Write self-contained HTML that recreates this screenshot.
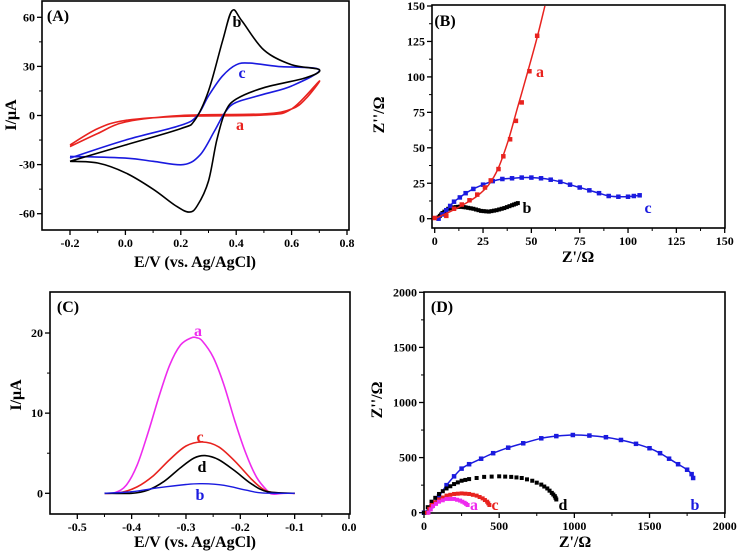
<!DOCTYPE html>
<html><head><meta charset="utf-8"><style>
html,body{margin:0;padding:0;background:#fff}
svg{display:block;font-family:"Liberation Serif",serif;font-weight:bold}
</style></head><body>
<svg id="fig" width="738" height="551" viewBox="0 0 738 551" xmlns="http://www.w3.org/2000/svg"></svg>
<script>
// ---------- Panel A data (CV) ----------
const cvA_E=[-0.2,-0.1,0.0,0.2,0.5,0.6,0.7,0.65,0.6,0.5,0.2,0.0,-0.1,-0.2];
const cvA_I=[-18,-8,-3,-0.5,0.3,4,21,10,4,1,0,-4,-11,-19];
const cvB_E=[-0.2,0.0,0.2,0.25,0.3,0.35,0.385,0.42,0.5,0.6,0.7,0.65,0.5,0.4,0.36,0.33,0.3,0.26,0.23,0.18,0.1,0.0,-0.1,-0.2];
const cvB_I=[-28,-18,-8,-3,15,45,64,58,40,31,28,23,17,10,2,-15,-40,-55,-59,-55,-45,-35,-29,-28];
const cvC_E=[-0.2,0.0,0.2,0.26,0.3,0.35,0.4,0.45,0.55,0.7,0.6,0.5,0.4,0.36,0.32,0.27,0.21,0.1,0.0,-0.2];
const cvC_I=[-26,-15,-6,0,12,24,31,32,30,28,18,13,8,2,-10,-24,-30,-28,-26,-25];
const ticksA_x=[-0.2,0.0,0.2,0.4,0.6,0.8];
const ticksA_y=[-60,-30,0,30,60];
// ---------- Panel B data (EIS) ----------
const eisBa_x=[0,6,10,14,18,22,26,29,33,35.5,39,42,45,49,53];
const eisBa_y=[0.5,2,7,10,13,17,22,27,35,44,56,69,82,104,129];
const fitBa_x=[0,8,15,22,28,33,38,43,48,53,57];
const fitBa_y=[0,5,10,16,24,36,55,79,103,128,150];
const eisBb_x=[2,4,7,10,13,16,20,24,28,32,36,40,43];
const eisBb_y=[1,4,7,8,8.5,8,7,5.5,5,6,7.5,9.5,11];
const eisBc_x=[2,4,6,8,10,13,16,20,25,30,35,40,45,50,55,60,65,70,75,80,85,90,95,100,103,106];
const eisBc_y=[0,3,6,9,12,15,18,21,24,26.5,28,28.5,29,29,28.5,27.5,26,24,22,20,18,16,15.5,15.5,16,16.5];
const ticksB_x=[0,25,50,75,100,125,150];
const ticksB_y=[0,25,50,75,100,125,150];
// ---------- Panel C data (DPV) ----------
const dpvA_x=[-0.45,-0.43,-0.41,-0.39,-0.37,-0.35,-0.33,-0.31,-0.29,-0.28,-0.27,-0.25,-0.23,-0.21,-0.19,-0.17,-0.15,-0.14,-0.12,-0.1];
const dpvA_y=[0,0.1,1,3.5,7.5,12,16,18.5,19.4,19.4,19,17,13.5,9,5,2,0.3,-0.1,0,0];
const dpvC_x=[-0.45,-0.42,-0.39,-0.36,-0.33,-0.30,-0.27,-0.24,-0.21,-0.18,-0.16,-0.14,-0.1];
const dpvC_y=[0,0.1,0.8,2.2,4.2,5.9,6.4,5.8,4,1.8,0.6,0.1,0];
const dpvD_x=[-0.45,-0.40,-0.37,-0.34,-0.31,-0.285,-0.265,-0.24,-0.21,-0.18,-0.15,-0.1];
const dpvD_y=[0,0,0.4,1.5,3.2,4.4,4.7,4.2,2.8,1.2,0.2,0];
const dpvB_x=[-0.45,-0.4,-0.35,-0.3,-0.27,-0.23,-0.19,-0.16,-0.1];
const dpvB_y=[0,0.2,0.7,1.1,1.2,1.0,0.4,0.05,0];
const ticksC_x=[-0.5,-0.4,-0.3,-0.2,-0.1,0.0];
const ticksC_y=[0,10,20];
// ---------- Panel D data (EIS) ----------
const eisDb_x=[0,50,100,150,200,250,300,380,460,560,660,780,880,990,1100,1210,1310,1410,1500,1570,1630,1690,1750,1780,1790];
const eisDb_y=[0,60,150,250,330,400,440,490,540,590,630,675,695,705,700,685,660,625,585,540,490,440,390,350,315];
const eisDd_x=[0,50,100,150,200,250,300,400,500,580,650,720,780,820,850,870,880];
const eisDd_y=[0,100,170,220,260,290,305,325,330,325,315,290,255,220,180,150,120];
const eisDc_x=[20,50,100,150,200,250,300,350,390,420,435];
const eisDc_y=[0,70,120,155,170,175,170,155,130,100,70];
const eisDa_x=[30,60,100,150,200,240,270,290];
const eisDa_y=[0,60,100,125,125,110,90,70];
const ticksD=[0,500,1000,1500,2000];

const NS="http://www.w3.org/2000/svg";
const svg=document.getElementById('fig');
function mk(tag,attrs,parent){const e=document.createElementNS(NS,tag);for(const k in attrs)e.setAttribute(k,attrs[k]);(parent||svg).appendChild(e);return e;}
function scale(d0,d1,p0,p1){return v=>p0+(v-d0)*(p1-p0)/(d1-d0);}
function smooth(pts){let d='M'+pts[0][0].toFixed(1)+','+pts[0][1].toFixed(1);
 for(let i=0;i<pts.length-1;i++){const p0=pts[i-1]||pts[i],p1=pts[i],p2=pts[i+1],p3=pts[i+2]||p2;
  const c1=[p1[0]+(p2[0]-p0[0])/6,p1[1]+(p2[1]-p0[1])/6],c2=[p2[0]-(p3[0]-p1[0])/6,p2[1]-(p3[1]-p1[1])/6];
  d+='C'+c1[0].toFixed(1)+','+c1[1].toFixed(1)+' '+c2[0].toFixed(1)+','+c2[1].toFixed(1)+' '+p2[0].toFixed(1)+','+p2[1].toFixed(1);}
 return d;}
function frame(g,L,T,R,B){mk('rect',{x:L,y:T,width:R-L,height:B-T,fill:'none',stroke:'#000','stroke-width':1.6},g);}
function xTicks(g,sx,ticks,B,fmt,minorStep){ticks.forEach(t=>{const x=sx(t);
  mk('line',{x1:x,y1:B,x2:x,y2:B+5,stroke:'#000','stroke-width':1.3},g);
  const tx=mk('text',{x:x,y:B+17,'text-anchor':'middle','font-size':12},g);tx.textContent=fmt(t);
  
  
  const m=sx(t+minorStep);if(t!==ticks[ticks.length-1])mk('line',{x1:m,y1:B,x2:m,y2:B+3,stroke:'#000','stroke-width':1},g);});}
function yTicks(g,sy,ticks,L,fmt,minorStep){ticks.forEach(t=>{const y=sy(t);
  mk('line',{x1:L,y1:y,x2:L-5,y2:y,stroke:'#000','stroke-width':1.3},g);
  const tx=mk('text',{x:L-7,y:y+4,'text-anchor':'end','font-size':12},g);tx.textContent=fmt(t);
  
  
  const m=sy(t+minorStep);if(t!==ticks[ticks.length-1])mk('line',{x1:L,y1:m,x2:L-3,y2:m,stroke:'#000','stroke-width':1},g);});}
function label(g,x,y,txt,size,color,name,rot){const a={x:x,y:y,'font-size':size,fill:color||'#000','text-anchor':'middle'};
 if(rot)a.transform='rotate(-90 '+x+' '+y+')';const t=mk('text',a,g);t.textContent=txt;
 
 return t;}
function line(g,xs,ys,sx,sy,color,w,name){const pts=xs.map((x,i)=>[sx(x),sy(ys[i])]);
 const p=mk('path',{d:smooth(pts),fill:'none',stroke:color,'stroke-width':w||1.5},g);
 
 return p;}
function markers(g,xs,ys,sx,sy,color,s,name){xs.forEach((x,i)=>{const m=mk('rect',{x:sx(x)-s/2,y:sy(ys[i])-s/2,width:s,height:s,fill:color},g);
 
 });}
function dense(xs,ys,n){const ox=[],oy=[];for(let i=0;i<xs.length-1;i++)for(let k=0;k<n;k++){const f=k/n;ox.push(xs[i]+(xs[i+1]-xs[i])*f);oy.push(ys[i]+(ys[i+1]-ys[i])*f);}ox.push(xs[xs.length-1]);oy.push(ys[ys.length-1]);return [ox,oy];}
const f1=v=>v.toFixed(1), f0=v=>String(v);

// Panel A
{const g=mk('g',{});
 const L=42,R=349,T=1,B=230;const sx=scale(-0.3,0.8,42.3,347),sy=scale(0,60,115.5,17.3);
 frame(g,L,T,R,B);xTicks(g,sx,ticksA_x,B,f1,0.1);yTicks(g,sy,ticksA_y,L,f0,15);
 line(g,cvA_E,cvA_I,sx,sy,'#e8231f',1.6,'cv-curve-a');
 line(g,cvC_E,cvC_I,sx,sy,'#1a1adf',1.6,'cv-curve-c');
 line(g,cvB_E,cvB_I,sx,sy,'#000',1.6,'cv-curve-b');
 label(g,58,21,'(A)',16,'#000','panel-label-a');
 label(g,237,27,'b',16,'#000','curve-label-b');label(g,242,78,'c',16,'#1a1adf','curve-label-c');label(g,240,130,'a',16,'#e8231f','curve-label-a');
 label(g,195,267,'E/V (vs. Ag/AgCl)',16,'#000','x-axis-title');label(g,16,115,'I/μA',16,'#000','y-axis-title',true);}
// Panel B
{const g=mk('g',{});
 const L=432,R=725,T=5,B=228;const sx=scale(0,150,434.7,724.7),sy=scale(0,150,218.7,6);
 frame(g,L,T,R,B);xTicks(g,sx,ticksB_x,B,f0,12.5);yTicks(g,sy,ticksB_y,L,f0,12.5);
 const [bx,by]=dense(eisBb_x,eisBb_y,3);markers(g,bx,by,sx,sy,'#000',4,'eis-b-point');
 markers(g,eisBc_x,eisBc_y,sx,sy,'#1a1adf',4.5,'eis-c-point');line(g,eisBc_x,eisBc_y,sx,sy,'#1a1adf',1.5,'eis-c-line');
 markers(g,eisBa_x,eisBa_y,sx,sy,'#e8231f',4.5,'eis-a-point');line(g,fitBa_x,fitBa_y,sx,sy,'#e8231f',1.5,'eis-a-fit');
 label(g,445,26,'(B)',16,'#000','panel-label-b');
 label(g,540,77,'a',16,'#e8231f','curve-label-a');label(g,527,213,'b',16,'#000','curve-label-b');label(g,648,213,'c',16,'#1a1adf','curve-label-c');
 label(g,578,262,"Z'/Ω",16,'#000','x-axis-title');label(g,384,115,"Z''/Ω",16,'#000','y-axis-title',true);}
// Panel C
{const g=mk('g',{});
 const L=50,R=350,T=292,B=514;const sx=scale(-0.5,0,77.3,349),sy=scale(0,20,493.3,333);
 frame(g,L,T,R,B);xTicks(g,sx,ticksC_x,B,f1,0.05);yTicks(g,sy,ticksC_y,L,f0,5);
 line(g,dpvA_x,dpvA_y,sx,sy,'#ee2bee',1.6,'dpv-curve-a');line(g,dpvC_x,dpvC_y,sx,sy,'#e8231f',1.6,'dpv-curve-c');
 line(g,dpvD_x,dpvD_y,sx,sy,'#000',1.6,'dpv-curve-d');line(g,dpvB_x,dpvB_y,sx,sy,'#1a1adf',1.4,'dpv-curve-b');
 label(g,68,312,'(C)',16,'#000','panel-label-c');
 label(g,198,336,'a',16,'#ee2bee','curve-label-a');label(g,200,442,'c',16,'#e8231f','curve-label-c');label(g,202,472,'d',16,'#000','curve-label-d');label(g,200,500,'b',16,'#1a1adf','curve-label-b');
 label(g,195,547,'E/V (vs. Ag/AgCl)',16,'#000','x-axis-title');label(g,21,395,'I/μA',16,'#000','y-axis-title',true);}
// Panel D
{const g=mk('g',{});
 const L=424,R=725,T=292,B=513;const sx=scale(0,2000,424,724.7),sy=scale(0,2000,512.7,292.3);
 frame(g,L,T,R,B);xTicks(g,sx,ticksD,B,f0,250);yTicks(g,sy,ticksD,L,f0,250);
 line(g,eisDb_x,eisDb_y,sx,sy,'#1a1adf',1.5,'eis-b-line');markers(g,eisDb_x,eisDb_y,sx,sy,'#1a1adf',4.5,'eis-b-point');
 const [dx,dy]=dense(eisDd_x,eisDd_y,2);markers(g,dx,dy,sx,sy,'#000',4,'eis-d-point');
 const [cx,cy]=dense(eisDc_x,eisDc_y,2);markers(g,cx,cy,sx,sy,'#e8231f',4,'eis-c-point');
 const [ax,ay]=dense(eisDa_x,eisDa_y,2);markers(g,ax,ay,sx,sy,'#ee2bee',4,'eis-a-point');
 label(g,442,312,'(D)',16,'#000','panel-label-d');
 label(g,474,510,'a',16,'#ee2bee','curve-label-a');label(g,495,510,'c',16,'#e8231f','curve-label-c');label(g,563,510,'d',16,'#000','curve-label-d');label(g,695,510,'b',16,'#1a1adf','curve-label-b');
 label(g,575,547,"Z'/Ω",16,'#000','x-axis-title');label(g,382,400,"Z''/Ω",16,'#000','y-axis-title',true);}
</script>
</body></html>
